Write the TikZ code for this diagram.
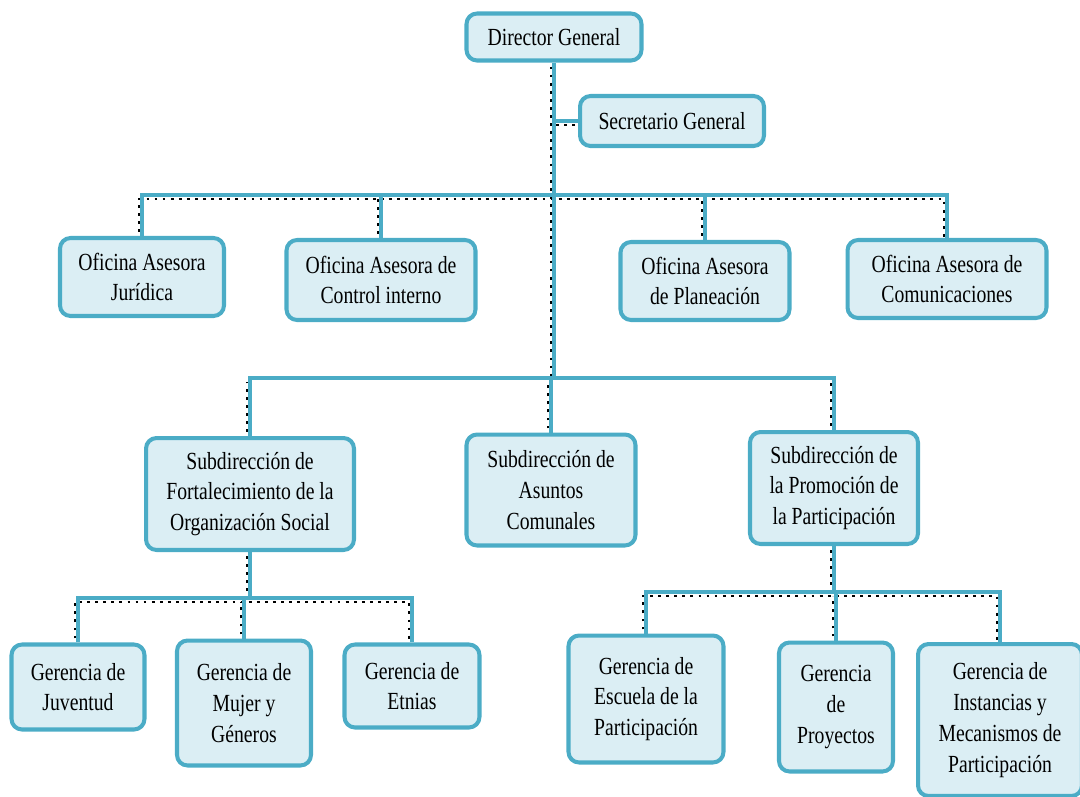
\documentclass[tikz,border=0pt]{standalone}
\usepackage{fontspec}
\setmainfont{Liberation Serif}[FakeStretch=0.8]
\usetikzlibrary{backgrounds}
\definecolor{orgline}{HTML}{4BACC6}
\definecolor{orgfill}{HTML}{DBEEF4}
\tikzset{%
  unit/.style  = {shape=rectangle, rounded corners=6pt,%
                  draw=orgline, line width=2.3pt, fill=orgfill,%
                  align=center, inner sep=2pt,%
                  font=\fontsize{14}{17.5}\selectfont},%
  link/.style  = {draw=orgline, line width=2.3pt},%
  ghost/.style = {draw=black, line width=1.6pt, dash pattern=on 1.6pt off 3pt,%
                  transform canvas={shift={(-1.7pt,-2.3pt)}}}%
}

\begin{document}
\begin{tikzpicture}[x=0.02cm,y=-0.02cm]
  \useasboundingbox (0,0) rectangle (1080,796);
  % direction
  \node[unit, minimum width=3.5cm, minimum height=0.94cm] (director) at (554,37) {Director General};
  \node[unit, minimum width=3.68cm, minimum height=1cm] (secretario) at (672,121) {Secretario General};
  % oficinas asesoras
  \node[unit, minimum width=3.28cm, minimum height=1.56cm] (juridica) at (142,277) {Oficina Asesora\\Jurídica};
  \node[unit, minimum width=3.78cm, minimum height=1.6cm] (control) at (381,280) {Oficina Asesora de\\Control interno};
  \node[unit, minimum width=3.38cm, minimum height=1.56cm] (planeacion) at (705,281) {Oficina Asesora\\de Planeación};
  \node[unit, minimum width=3.98cm, minimum height=1.56cm] (comunic) at (947,279) {Oficina Asesora de\\Comunicaciones};
  % subdirecciones
  \node[unit, minimum width=4.16cm, minimum height=2.24cm] (fortal) at (250,494) {Subdirección de\\Fortalecimiento de la\\Organización Social};
  \node[unit, minimum width=3.38cm, minimum height=2.22cm] (asuntos) at (551,490) {Subdirección de\\Asuntos\\Comunales};
  \node[unit, minimum width=3.36cm, minimum height=2.24cm] (promo) at (834,488) {Subdirección de\\la Promoción de\\la Participación};
  % gerencias
  \node[unit, minimum width=2.66cm, minimum height=1.7cm] (juventud) at (78,687) {Gerencia de\\Juventud};
  \node[unit, minimum width=2.68cm, minimum height=2.5cm] (mujer) at (244,703) {Gerencia de\\Mujer y\\Géneros};
  \node[unit, minimum width=2.7cm, minimum height=1.66cm] (etnias) at (412,686) {Gerencia de\\Etnias};
  \node[unit, minimum width=3.1cm, minimum height=2.54cm] (escuela) at (646,699) {Gerencia de\\Escuela de la\\Participación};
  \node[unit, minimum width=2.28cm, minimum height=2.58cm] (proyectos) at (836,707) {Gerencia\\de\\Proyectos};
  \node[unit, minimum width=3.28cm, minimum height=3.04cm] (instancias) at (1000,720) {Gerencia de\\Instancias y\\Mecanismos de\\Participación};
  % buses
  \coordinate (bus1) at (554,195);
  \coordinate (bus2) at (554,378);
  \coordinate (bus3) at (250,598);
  \coordinate (bus4) at (834,592);
  \begin{scope}[on background layer]
    % dotted shadow of the lines
    \draw[ghost] (director.south) -- (bus2);
    \draw[ghost] (secretario.west) -- (secretario.west -| director.south);
    \draw[ghost] (juridica.north) |- (bus1) -| (comunic.north);
    \draw[ghost] (control.north) -- (control.north |- bus1);
    \draw[ghost] (planeacion.north) -- (planeacion.north |- bus1);
    \draw[ghost] (fortal.north) -- (fortal.north |- bus2);
    \draw[ghost] (asuntos.north) -- (asuntos.north |- bus2);
    \draw[ghost] (promo.north) -- (promo.north |- bus2);
    \draw[ghost] (fortal.south) -- (bus3);
    \draw[ghost] (juventud.north) |- (bus3) -| (etnias.north);
    \draw[ghost] (mujer.north) -- (mujer.north |- bus3);
    \draw[ghost] (promo.south) -- (bus4);
    \draw[ghost] (escuela.north) |- (bus4) -| (instancias.north);
    \draw[ghost] (proyectos.north) -- (proyectos.north |- bus4);
    % lines
    \draw[link] (director.south) -- (bus2);
    \draw[link] (secretario.west) -- (secretario.west -| director.south);
    \draw[link] (juridica.north) |- (bus1) -| (comunic.north);
    \draw[link] (control.north) -- (control.north |- bus1);
    \draw[link] (planeacion.north) -- (planeacion.north |- bus1);
    \draw[link] (fortal.north) |- (bus2) -| (promo.north);
    \draw[link] (asuntos.north) -- (asuntos.north |- bus2);
    \draw[link] (fortal.south) -- (bus3);
    \draw[link] (juventud.north) |- (bus3) -| (etnias.north);
    \draw[link] (mujer.north) -- (mujer.north |- bus3);
    \draw[link] (promo.south) -- (bus4);
    \draw[link] (escuela.north) |- (bus4) -| (instancias.north);
    \draw[link] (proyectos.north) -- (proyectos.north |- bus4);
  \end{scope}
\end{tikzpicture}
\end{document}
